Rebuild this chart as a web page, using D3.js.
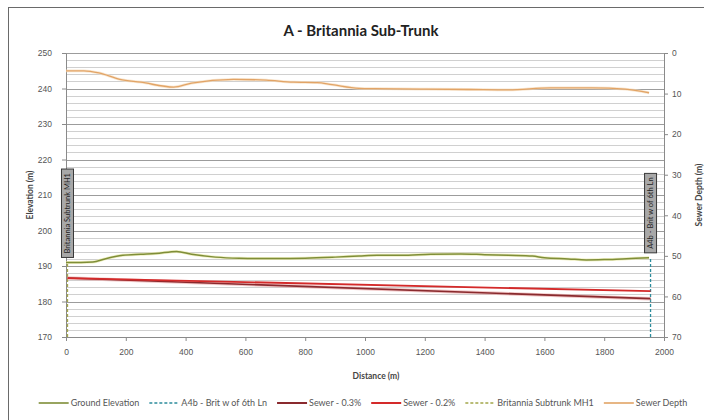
<!DOCTYPE html>
<html>
<head>
<meta charset="utf-8">
<script src="https://cdn.jsdelivr.net/npm/d3@7"></script>
<style>
  body { margin: 0; background: #fff; }
  svg { display: block; font-family: Lato, "Open Sans", sans-serif; }
  .axis text { fill: #555; font-size: 8.5px; }
  .axis path, .axis line { stroke: #8a8a8a; }
</style>
</head>
<body>
<svg id="chart" width="704" height="420"></svg>
<script>
// Ground elevation profile (left axis, m)
const groundDist = [0, 50, 90, 130, 190, 250, 300, 370, 420, 500, 580, 700, 800, 900, 980, 1040, 1120, 1220, 1320, 1400, 1480, 1560, 1600, 1680, 1740, 1800, 1860, 1950];
const groundElev = [191, 191, 191.1, 192, 193, 193.3, 193.5, 194.1, 193.3, 192.5, 192.2, 192.1, 192.2, 192.5, 192.8, 193, 193, 193.3, 193.4, 193.2, 193, 192.8, 192.3, 192, 191.7, 191.8, 192, 192.3];

// Sewer depth (right axis, m)
const depthDist = [0, 60, 110, 180, 250, 360, 420, 560, 670, 760, 840, 890, 980, 1030, 1200, 1350, 1480, 1620, 1760, 1870, 1950];
const depthVals = [4.4, 4.4, 4.9, 6.5, 7.2, 8.4, 7.4, 6.5, 6.7, 7.2, 7.3, 7.8, 8.7, 8.8, 8.9, 9.0, 9.1, 8.6, 8.6, 8.9, 9.8];

// Sewer inverts at the two manholes
const sewerDist = [5, 1955];
const sewer03 = [186.6, 180.8];
const sewer02 = [186.6, 182.9];

// Manhole markers
const mh1Dist = [5, 5];
const mh1Elev = [170, 191];
const a4bDist = [1955, 1955];
const a4bElev = [170, 192.3];

const xTicks = d3.range(0, 2001, 200);
const leftTicks = d3.range(170, 251, 10);
const rightTicks = d3.range(0, 71, 10);

const width = 704;
const height = 420;
const margin = { left: 66, right: 664, top: 53, bottom: 337 };

const xScale = d3.scaleLinear().domain([0, 2000]).range([margin.left, margin.right]);
const yScale = d3.scaleLinear().domain([170, 250]).range([margin.bottom, margin.top]);
const y2Scale = d3.scaleLinear().domain([0, 70]).range([margin.top, margin.bottom]);

const chart = d3.select("#chart");

// chart frame (right and bottom edges fall outside the picture)
chart.append("rect")
  .attr("x", 8.5).attr("y", 7.5)
  .attr("width", width).attr("height", height)
  .attr("fill", "#fff")
  .attr("stroke", "#6a6a6a");

// gridlines: minor every 2 m, major every 10 m
const grid = chart.append("g");
grid.selectAll("line.minor")
  .data(d3.range(172, 250, 2).filter((d) => d % 10 !== 0))
  .enter()
  .append("line")
  .attr("x1", margin.left).attr("x2", margin.right)
  .attr("y1", (d) => Math.round(yScale(d)) + 0.5)
  .attr("y2", (d) => Math.round(yScale(d)) + 0.5)
  .attr("stroke", "#d0d0d0");
grid.selectAll("line.major")
  .data(leftTicks.slice(1))
  .enter()
  .append("line")
  .attr("x1", margin.left).attr("x2", margin.right)
  .attr("y1", (d) => Math.round(yScale(d)) + 0.5)
  .attr("y2", (d) => Math.round(yScale(d)) + 0.5)
  .attr("stroke", "#9c9c9c");

// axes
chart.append("g")
  .attr("class", "axis")
  .attr("transform", `translate(0, ${margin.bottom})`)
  .call(d3.axisBottom(xScale).tickValues(xTicks).tickFormat(d3.format("d"))
    .tickSize(4).tickPadding(8).tickSizeOuter(0));

chart.append("g")
  .attr("class", "axis")
  .attr("transform", `translate(${margin.left}, 0)`)
  .call(d3.axisLeft(yScale).tickValues(leftTicks).tickSize(4).tickPadding(10).tickSizeOuter(0));

chart.append("g")
  .attr("class", "axis")
  .attr("transform", `translate(${margin.right}, 0)`)
  .call(d3.axisRight(y2Scale).tickValues(rightTicks).tickSize(4).tickPadding(4).tickSizeOuter(0));

const zip = (a, b) => a.map((v, i) => [v, b[i]]);
const smooth = d3.line().x((d) => xScale(d[0])).y((d) => yScale(d[1])).curve(d3.curveMonotoneX);
const smooth2 = d3.line().x((d) => xScale(d[0])).y((d) => y2Scale(d[1])).curve(d3.curveMonotoneX);
const straight = d3.line().x((d) => xScale(d[0])).y((d) => yScale(d[1]));

// manhole dashed verticals
chart.append("path")
  .attr("d", straight(zip(mh1Dist, mh1Elev)))
  .attr("fill", "none").attr("stroke", "#a3a64a").attr("stroke-width", 1.3)
  .attr("stroke-dasharray", "3,2");
chart.append("path")
  .attr("d", straight(zip(a4bDist, a4bElev)))
  .attr("fill", "none").attr("stroke", "#2c8c9c").attr("stroke-width", 1.3)
  .attr("stroke-dasharray", "3,2");

// sewer inverts
chart.append("path")
  .attr("d", straight(zip(sewerDist, sewer03)))
  .attr("fill", "none").attr("stroke", "#e8a0a0").attr("stroke-width", 3.5).attr("opacity", 0.6);
chart.append("path")
  .attr("d", straight(zip(sewerDist, sewer03)))
  .attr("fill", "none").attr("stroke", "#8a2a2e").attr("stroke-width", 1.6);
chart.append("path")
  .attr("d", straight(zip(sewerDist, sewer02)))
  .attr("fill", "none").attr("stroke", "#d42a2a").attr("stroke-width", 1.8);

// ground
chart.append("path")
  .attr("d", smooth(zip(groundDist, groundElev)))
  .attr("fill", "none").attr("stroke", "#e8e8a8").attr("stroke-width", 3).attr("opacity", 0.7);
chart.append("path")
  .attr("d", smooth(zip(groundDist, groundElev)))
  .attr("fill", "none").attr("stroke", "#7f8e38").attr("stroke-width", 1.5);

// sewer depth on right axis
chart.append("path")
  .attr("d", smooth2(zip(depthDist, depthVals)))
  .attr("fill", "none").attr("stroke", "#f5dcbc").attr("stroke-width", 2.8).attr("opacity", 0.7);
chart.append("path")
  .attr("d", smooth2(zip(depthDist, depthVals)))
  .attr("fill", "none").attr("stroke", "#e2a466").attr("stroke-width", 1.3);

// manhole labels (rotated data labels above each marker)
function markerLabel(dist, elev, text) {
  const cx = xScale(dist);
  const bottom = yScale(elev) - 5;
  const g = chart.append("g");
  const t = g.append("text")
    .attr("font-size", "7.5px")
    .attr("fill", "#222")
    .attr("text-anchor", "middle")
    .text(text);
  const len = t.node().getComputedTextLength() + 8;
  const cy = bottom - len / 2;
  g.insert("rect", "text")
    .attr("x", cx - 6).attr("y", bottom - len)
    .attr("width", 12).attr("height", len)
    .attr("fill", "#a8a8a8").attr("stroke", "#3a3a3a");
  t.attr("transform", `translate(${cx + 2.7}, ${cy}) rotate(-90)`);
}
markerLabel(mh1Dist[1], mh1Elev[1], "Britannia Subtrunk MH1");
markerLabel(a4bDist[1], a4bElev[1], "A4b - Brit w of 6th Ln");

// titles
chart.append("text")
  .attr("x", 361).attr("y", 36)
  .attr("text-anchor", "middle")
  .attr("font-size", "15px").attr("font-weight", "bold").attr("fill", "#222")
  .text("A - Britannia Sub-Trunk");

chart.append("text")
  .attr("transform", `translate(33, ${(margin.top + margin.bottom) / 2}) rotate(-90)`)
  .attr("text-anchor", "middle")
  .attr("font-size", "8.5px").attr("font-weight", "bold").attr("fill", "#444")
  .text("Elevation (m)");

chart.append("text")
  .attr("transform", `translate(702, ${(margin.top + margin.bottom) / 2}) rotate(-90)`)
  .attr("text-anchor", "middle")
  .attr("font-size", "8.5px").attr("font-weight", "bold").attr("fill", "#444")
  .text("Sewer Depth (m)");

chart.append("text")
  .attr("x", 376).attr("y", 379)
  .attr("text-anchor", "middle")
  .attr("font-size", "8.5px").attr("font-weight", "bold").attr("fill", "#444")
  .text("Distance (m)");

// legend
const legendItems = [
  { name: "Ground Elevation", color: "#7f8e38", dash: null, w: 1.6 },
  { name: "A4b - Brit w of 6th Ln", color: "#2c8c9c", dash: "3,2", w: 1.3 },
  { name: "Sewer - 0.3%", color: "#8a2a2e", dash: null, w: 2 },
  { name: "Sewer - 0.2%", color: "#d42a2a", dash: null, w: 2 },
  { name: "Britannia Subtrunk MH1", color: "#a3a64a", dash: "3,2", w: 1.3 },
  { name: "Sewer Depth", color: "#e2a466", dash: null, w: 1.6 },
];
const legend = chart.append("g");
let lx = 0;
legendItems.forEach((d) => {
  const g = legend.append("g").attr("transform", `translate(${lx}, 0)`);
  g.append("line")
    .attr("x1", 0).attr("x2", 30).attr("y1", 0).attr("y2", 0)
    .attr("stroke", d.color).attr("stroke-width", d.w)
    .attr("stroke-dasharray", d.dash);
  const t = g.append("text")
    .attr("x", 32).attr("y", 3)
    .attr("font-size", "9px").attr("fill", "#555")
    .text(d.name);
  lx += 32 + t.node().getComputedTextLength() + 10;
});
legend.attr("transform", `translate(${363 - (lx - 10) / 2}, 403)`);
</script>
</body>
</html>
